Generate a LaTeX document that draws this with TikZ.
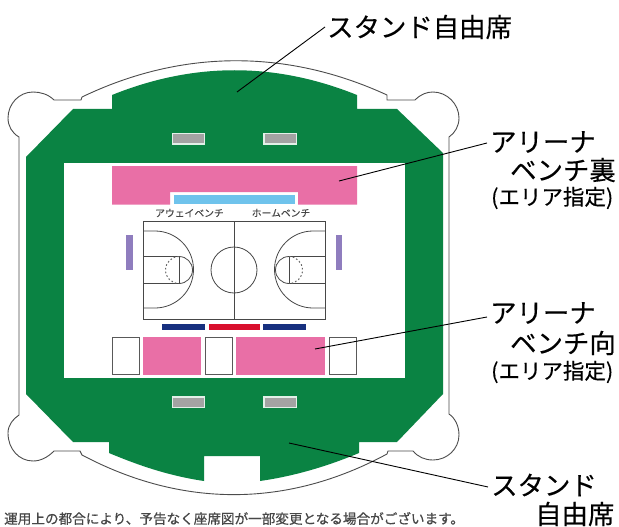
\documentclass[tikz,border=0pt]{standalone}
\usepackage{fontspec}
\setmainfont{Noto Sans CJK JP}
\newfontfamily\heavycjk[FakeBold=0.25]{Noto Sans CJK JP}
\newfontfamily\notecjk[FakeBold=0.6]{Noto Sans CJK JP}
\tikzset{
  outline/.style={draw=black!70,line width=0.9pt,fill=white},
  stand/.style={fill=standgreen},
  gate/.style={fill=gategray,draw=white!88!standgreen,line width=1.1pt},
  area/.style={fill=arenapink},
  emptybox/.style={draw=black!65,line width=0.8pt,fill=white},
  court/.style={draw=black!72,line width=0.8pt},
  ftdash/.style={draw=black!60,line width=1pt,dash pattern=on 1.6pt off 2.2pt},
  leader/.style={draw=black,line width=0.9pt},
  biglabel/.style={inner sep=0pt,anchor=west,font=\heavycjk\fontsize{26.4}{27}\selectfont,text=black},
  sublabel/.style={inner sep=0pt,anchor=west,font=\heavycjk\fontsize{21.5}{22}\selectfont,text=black},
  benchlabel/.style={inner sep=0pt,font=\heavycjk\fontsize{9.8}{10}\selectfont,text=black!72},
  note/.style={inner sep=0pt,anchor=west,font=\notecjk\fontsize{13.6}{14}\selectfont,text=black!72}
}
\definecolor{standgreen}{HTML}{0A8343}
\definecolor{gategray}{HTML}{A3A3A3}
\definecolor{arenapink}{HTML}{E96FA6}
\definecolor{benchblue}{HTML}{6FC3EC}
\definecolor{sidepurple}{HTML}{8F7DBE}
\definecolor{navybar}{HTML}{17307F}
\definecolor{redbar}{HTML}{D90F2D}
\begin{document}
\begin{tikzpicture}[x=1pt,y=-1pt]
\useasboundingbox (0,0) rectangle (619,527);
% outer wall
\draw[outline] (82,97) .. controls (182,49) and (287,49) .. (387,95) -- (387,100) -- (415,100)
  .. controls (421,94) and (427,92) .. (433,92) .. controls (447,92) and (459,104) .. (459,118)
  .. controls (459,126) and (455,133) .. (449,137) -- (449,414)
  .. controls (455,418) and (459,426) .. (459,435) .. controls (459,449) and (447,460) .. (433,460)
  .. controls (425,460) and (418,457) .. (413,451) -- (388,451) -- (387,454)
  .. controls (287,508) and (182,508) .. (82,455) -- (80,451) -- (54,451)
  .. controls (48,457) and (41,461) .. (33,461) .. controls (19,461) and (8,449) .. (8,433)
  .. controls (8,425) and (13,419) .. (19,415) -- (19,137)
  .. controls (12,133) and (8,126) .. (8,118) .. controls (8,104) and (19,92) .. (33,92)
  .. controls (40,92) and (48,94) .. (54,100) -- (81,100) -- cycle;
% stand
\fill[stand] (112,95) .. controls (194,62) and (275,62) .. (357,95) -- (357,109) -- (397,109)
  -- (443,153) -- (443,394) -- (397,442) -- (359,442) -- (359,453)
  .. controls (328,466) and (295,476) .. (260,481) -- (260,456) -- (204,456) -- (204,481)
  .. controls (170,476) and (140,466) .. (109,453) -- (109,442) -- (73,442) -- (26,394)
  -- (26,157) -- (73,109) -- (112,109) -- cycle;
\fill[white] (64,163) rectangle (405,378);
% gates
\draw[gate] (172.5,133.5) rectangle (204.5,144);
\draw[gate] (264,133.5) rectangle (296.5,144);
\draw[gate] (172.5,397) rectangle (204.5,407.5);
\draw[gate] (264,397) rectangle (296.5,407.5);
% arena behind bench
\fill[area] (112,166) -- (357,166) -- (357,204.5) -- (298,204.5) -- (298,192) -- (170,192) -- (170,204.5) -- (112,204.5) -- cycle;
\fill[benchblue] (174,195) rectangle (295,204);
% side bars
\fill[sidepurple] (126,235) rectangle (132.5,270);
\fill[sidepurple] (336,235) rectangle (341.5,270);
% court
\draw[court] (143,221) rectangle (325,319);
\draw[court] (234,221) -- (234,319);
\draw[court] (234,270) circle[radius=23pt];
\draw[court] (143,256) -- (179,256) (143,283) -- (179,283) (179,256) -- (179,283);
\draw[court] (325,256) -- (289,256) (325,283) -- (289,283) (289,256) -- (289,283);
\draw[court] (179,256.5) arc[start angle=90,end angle=-90,radius=13.5pt];
\draw[ftdash] (179,256.5) arc[start angle=90,end angle=270,radius=13.5pt];
\draw[court] (289,256.5) arc[start angle=90,end angle=270,radius=13.5pt];
\draw[ftdash] (289,256.5) arc[start angle=90,end angle=-90,radius=13.5pt];
\draw[court] (143,231) -- (155,231) arc[start angle=90,end angle=-90,radius=38.5pt] -- (143,308);
\draw[court] (325,231) -- (313,231) arc[start angle=90,end angle=270,radius=38.5pt] -- (325,308);
\node[benchlabel] (away) at (189.5,213) {アウェイベンチ};
\node[benchlabel] (home) at (281,213) {ホームベンチ};
% bars
\fill[navybar] (162,324) rectangle (205,330);
\fill[redbar] (209,324) rectangle (260,330);
\fill[navybar] (263,324) rectangle (306,330);
% arena facing bench
\draw[emptybox] (112,337) rectangle (139,374);
\fill[area] (143,337) rectangle (201,374.5);
\draw[emptybox] (205,337) rectangle (232,374);
\fill[area] (236,337) rectangle (325,374.5);
\draw[emptybox] (329,337) rectangle (356,374);
% labels
\node[biglabel] (standtop) at (327,27) {スタンド自由席};
\node[biglabel] (behind1) at (490,142) {アリーナ};
\node[biglabel] (behind2) at (510,170) {ベンチ裏};
\node[sublabel] (behind3) at (491,198) {(エリア指定)};
\node[biglabel] (facing1) at (490,313) {アリーナ};
\node[biglabel] (facing2) at (510,343) {ベンチ向};
\node[sublabel] (facing3) at (491,372) {(エリア指定)};
\node[biglabel] (standbot1) at (491,485) {スタンド};
\node[biglabel] (standbot2) at (535,514) {自由席};
\node[note] (footnote) at (4,518.5) {運用上の都合により、予告なく座席図が一部変更となる場合がございます。};
% leaders
\coordinate (ptop) at (237,92);
\coordinate (ltop) at (325,27);
\coordinate (pbehind) at (339,181);
\coordinate (lbehind) at (487,143);
\coordinate (pfacing) at (315,349);
\coordinate (lfacing) at (487,317);
\coordinate (pbot) at (289,443);
\coordinate (lbot) at (488,487);
\draw[leader] (ptop) -- (ltop);
\draw[leader] (pbehind) -- (lbehind);
\draw[leader] (pfacing) -- (lfacing);
\draw[leader] (pbot) -- (lbot);
\end{tikzpicture}
\end{document}
